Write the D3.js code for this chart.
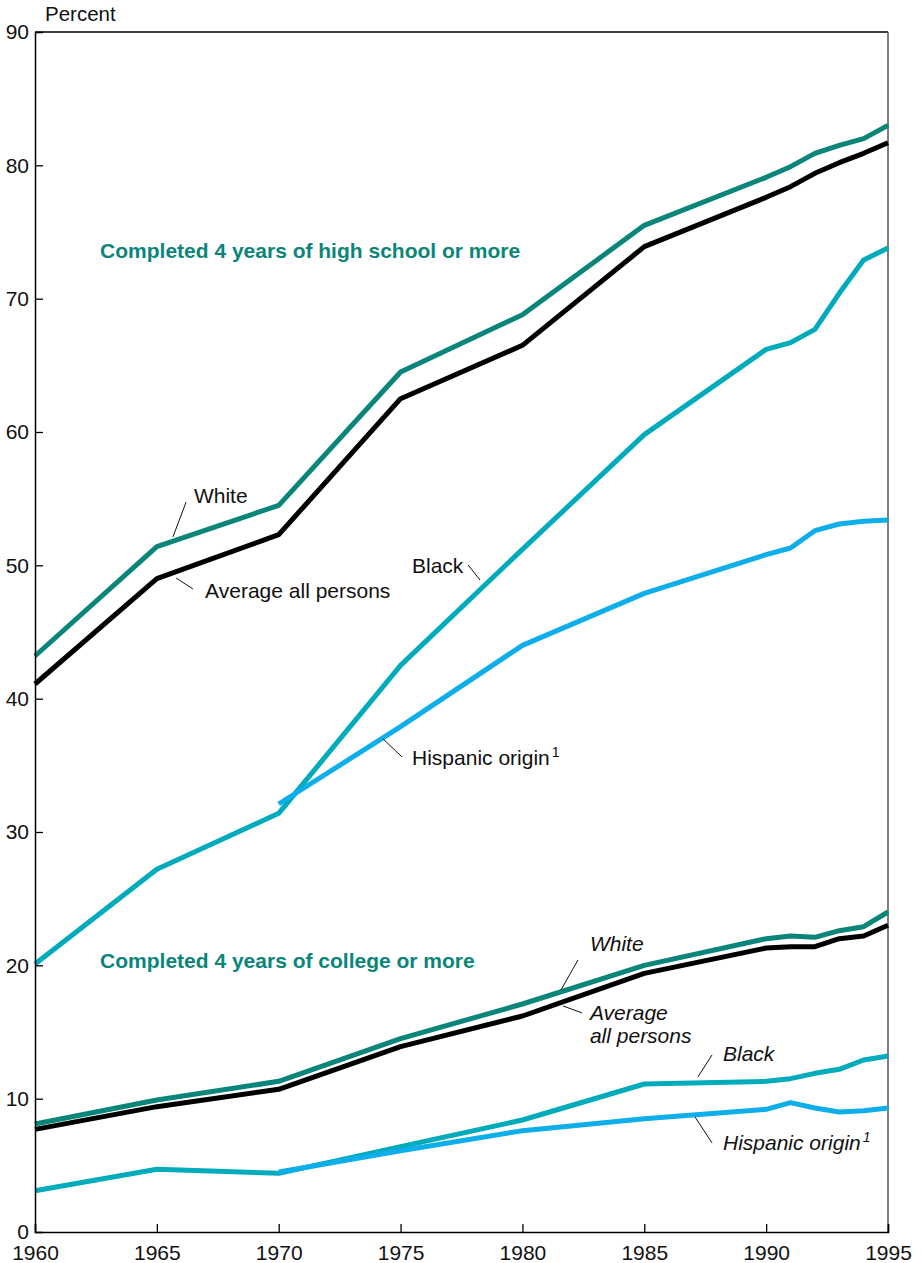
<!DOCTYPE html>
<html>
<head>
<meta charset="utf-8">
<script src="https://cdn.jsdelivr.net/npm/d3@7"></script>
<style>
  html, body { margin: 0; padding: 0; background: #fff; }
  svg { display: block; font-family: "Liberation Sans", Arial, Helvetica, sans-serif; }
</style>
</head>
<body>
<svg id="chart" width="921" height="1263"></svg>
<script>
// ---------- DATA ----------
const years = [1960, 1965, 1970, 1975, 1980, 1985, 1990, 1991, 1992, 1993, 1994, 1995];
const hispanicYears = [1970, 1975, 1980, 1985, 1990, 1991, 1992, 1993, 1994, 1995];

// High school (completed 4 years or more), percent
const hsWhite    = [43.2, 51.4, 54.5, 64.5, 68.8, 75.5, 79.1, 79.9, 80.9, 81.5, 82.0, 83.0];
const hsAverage  = [41.1, 49.0, 52.3, 62.5, 66.5, 73.9, 77.6, 78.4, 79.4, 80.2, 80.9, 81.7];
const hsBlack    = [20.1, 27.2, 31.4, 42.5, 51.2, 59.8, 66.2, 66.7, 67.7, 70.4, 72.9, 73.8];
const hsHispanic = [32.1, 37.9, 44.0, 47.9, 50.8, 51.3, 52.6, 53.1, 53.3, 53.4];

// College (completed 4 years or more), percent
const colWhite    = [8.1, 9.9, 11.3, 14.5, 17.1, 20.0, 22.0, 22.2, 22.1, 22.6, 22.9, 24.0];
const colAverage  = [7.7, 9.4, 10.7, 13.9, 16.2, 19.4, 21.3, 21.4, 21.4, 22.0, 22.2, 23.0];
const colBlack    = [3.1, 4.7, 4.4, 6.4, 8.4, 11.1, 11.3, 11.5, 11.9, 12.2, 12.9, 13.2];
const colHispanic = [4.5, 6.1, 7.6, 8.5, 9.2, 9.7, 9.3, 9.0, 9.1, 9.3];

const xTicks = [1960, 1965, 1970, 1975, 1980, 1985, 1990, 1995];
const yTicks = [0, 10, 20, 30, 40, 50, 60, 70, 80, 90];

// ---------- LAYOUT ----------
const W = 921, H = 1263;
const margin = { top: 32, right: 33, bottom: 31, left: 35 };
const colors = {
  white: "#0a857a",
  average: "#000000",
  black: "#00abbb",
  hispanic: "#0daeea",
  header: "#0a857a"
};

const svg = d3.select("#chart");
const x = d3.scaleLinear().domain([1960, 1995]).range([margin.left, W - margin.right]);
const y = d3.scaleLinear().domain([0, 90]).range([H - margin.bottom, margin.top]);

const series = [
  { ys: years, vs: hsBlack, color: colors.black },
  { ys: hispanicYears, vs: hsHispanic, color: colors.hispanic },
  { ys: years, vs: hsAverage, color: colors.average },
  { ys: years, vs: hsWhite, color: colors.white },
  { ys: years, vs: colBlack, color: colors.black },
  { ys: hispanicYears, vs: colHispanic, color: colors.hispanic },
  { ys: years, vs: colAverage, color: colors.average },
  { ys: years, vs: colWhite, color: colors.white }
];

const line = d3.line().x(d => x(d[0])).y(d => y(d[1]));

// frame: top & right
svg.append("line")
  .attr("x1", x(1960)).attr("x2", x(1995)).attr("y1", y(90)).attr("y2", y(90))
  .attr("stroke", "#000").attr("stroke-width", 1.5);
svg.append("line")
  .attr("x1", x(1995)).attr("x2", x(1995)).attr("y1", y(90)).attr("y2", y(0))
  .attr("stroke", "#555").attr("stroke-width", 1.5);

// lines
series.forEach(s => {
  svg.append("path")
    .datum(s.ys.map((yr, i) => [yr, s.vs[i]]))
    .attr("d", line)
    .attr("fill", "none")
    .attr("stroke", s.color)
    .attr("stroke-width", 5)
    .attr("stroke-linejoin", "round");
});

// axes
const xAxis = d3.axisBottom(x).tickValues(xTicks).tickFormat(d3.format("d")).tickSize(-8).tickPadding(13);
const gx = svg.append("g").attr("transform", `translate(0,${y(0)})`).call(xAxis);
gx.select(".domain").attr("stroke", "#000").attr("stroke-width", 1.5);
gx.selectAll(".tick line").attr("stroke", "#000").attr("stroke-width", 1.3);
gx.selectAll(".tick text").attr("font-size", 21).attr("fill", "#111")
  .attr("font-family", "'Liberation Sans', Arial, sans-serif");

const yAxis = d3.axisLeft(y).tickValues(yTicks).tickSize(-8).tickPadding(6);
const gy = svg.append("g").attr("transform", `translate(${x(1960)},0)`).call(yAxis);
gy.select(".domain").attr("stroke", "#000").attr("stroke-width", 1.5);
gy.selectAll(".tick line").attr("stroke", "#000").attr("stroke-width", 1.3)
  .filter(d => d === 0 || d === 90).remove();
gy.selectAll(".tick text").attr("font-size", 21).attr("fill", "#111")
  .attr("font-family", "'Liberation Sans', Arial, sans-serif");

// axis title
svg.append("text").attr("x", x(1960) + 10).attr("y", 21)
  .attr("font-size", 20.5).attr("fill", "#111").text("Percent");

// ---------- ANNOTATIONS (in data space) ----------
const headers = [
  { t: "Completed 4 years of high school or more", yr: 1962.67, v: 73.05 },
  { t: "Completed 4 years of college or more", yr: 1962.67, v: 19.8 }
];
headers.forEach(h => {
  svg.append("text").attr("x", x(h.yr)).attr("y", y(h.v))
    .attr("font-size", 21).attr("font-weight", "bold").attr("fill", colors.header).text(h.t);
});

const labels = [
  { lines: ["White"], yr: 1966.52, v: 54.68, italic: false, lead: [[1966.20, 54.75], [1965.66, 52.13]] },
  { lines: ["Average all persons"], yr: 1966.98, v: 47.55, italic: false, lead: [[1965.79, 49.05], [1966.48, 48.23]] },
  { lines: ["Black"], yr: 1975.47, v: 49.43, italic: false, lead: [[1977.77, 50.03], [1978.26, 48.9]] },
  { lines: ["Hispanic origin"], sup: true, yr: 1975.47, v: 35.03, italic: false, lead: [[1974.28, 36.98], [1975.06, 35.63]] },
  { lines: ["White"], yr: 1982.77, v: 21.08, italic: true, lead: [[1982.28, 20.4], [1981.58, 18.15]] },
  { lines: ["Average", "all persons"], yr: 1982.77, v: 15.9, italic: true, lead: [[1981.67, 16.95], [1982.45, 16.43]] },
  { lines: ["Black"], yr: 1988.23, v: 12.83, italic: true, lead: [[1987.78, 13.28], [1987.20, 11.63]] },
  { lines: ["Hispanic origin"], sup: true, yr: 1988.23, v: 6.15, italic: true, lead: [[1987.08, 8.63], [1987.78, 6.68]] }
];

labels.forEach(l => {
  const t = svg.append("text").attr("x", x(l.yr)).attr("y", y(l.v))
    .attr("font-size", 21).attr("fill", "#111")
    .attr("font-style", l.italic ? "italic" : "normal");
  l.lines.forEach((ln, i) => {
    t.append("tspan").attr("x", x(l.yr)).attr("dy", i === 0 ? 0 : 23).text(ln);
  });
  if (l.sup) {
    t.append("tspan").attr("dy", -8).attr("dx", 2).attr("font-size", 14).text("1");
  }
  svg.append("line")
    .attr("x1", x(l.lead[0][0])).attr("y1", y(l.lead[0][1]))
    .attr("x2", x(l.lead[1][0])).attr("y2", y(l.lead[1][1]))
    .attr("stroke", "#111").attr("stroke-width", 1);
});
</script>
</body>
</html>
